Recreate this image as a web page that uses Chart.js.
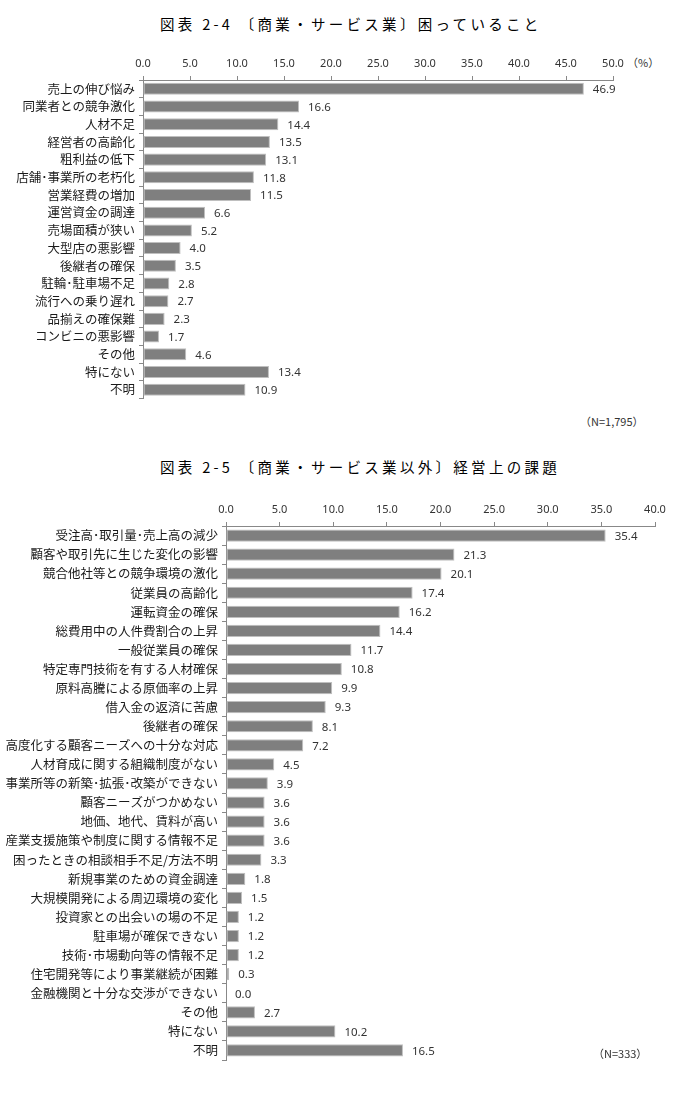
<!DOCTYPE html>
<html>
<head>
<meta charset="utf-8">
<script src="https://cdn.jsdelivr.net/npm/chart.js@4/dist/chart.umd.min.js"></script>
<style>
    body { margin: 0; background: #fff; width: 676px; height: 1105px; position: relative; overflow: hidden;
           font-family: "Noto Sans CJK JP", "Noto Sans", sans-serif; color: #222; }
    .title { position: absolute; left: 160px; font-size: 14.5px; letter-spacing: 3.3px; color: #000; font-weight: 400; white-space: nowrap; }
    .note { position: absolute; font-size: 11px; color: #333; }
    .box { position: absolute; left: 0; width: 676px; }
</style>
</head>
<body>
<div class="title" style="top:13px;">図表 2-4 〔商業・サービス業〕困っていること</div>
<div class="note" style="left:627px; top:54px;">（%）</div>
<div class="box" style="top:0; height:410px;"><canvas id="chart1"></canvas></div>
<div class="note" style="left:580px; top:413px;">（N=1,795）</div>

<div class="title" style="top:456px;">図表 2-5 〔商業・サービス業以外〕経営上の課題</div>
<div class="note" style="left:669px; top:506px;">（</div>
<div class="box" style="top:480px; height:600px;"><canvas id="chart2"></canvas></div>
<div class="note" style="left:593px; top:1045px;">（N=333）</div>

<script>
// ============================================
// DATA
// ============================================
const labels1 = ['売上の伸び悩み', '同業者との競争激化', '人材不足', '経営者の高齢化', '粗利益の低下',
    '店舗･事業所の老朽化', '営業経費の増加', '運営資金の調達', '売場面積が狭い', '大型店の悪影響',
    '後継者の確保', '駐輪･駐車場不足', '流行への乗り遅れ', '品揃えの確保難', 'コンビニの悪影響',
    'その他', '特にない', '不明'];
const values1 = [46.9, 16.6, 14.4, 13.5, 13.1, 11.8, 11.5, 6.6, 5.2, 4.0, 3.5, 2.8, 2.7, 2.3, 1.7, 4.6, 13.4, 10.9];
const ticks1 = [0, 5, 10, 15, 20, 25, 30, 35, 40, 45, 50];

const labels2 = ['受注高･取引量･売上高の減少', '顧客や取引先に生じた変化の影響', '競合他社等との競争環境の激化',
    '従業員の高齢化', '運転資金の確保', '総費用中の人件費割合の上昇', '一般従業員の確保',
    '特定専門技術を有する人材確保', '原料高騰による原価率の上昇', '借入金の返済に苦慮', '後継者の確保',
    '高度化する顧客ニーズへの十分な対応', '人材育成に関する組織制度がない', '事業所等の新築･拡張･改築ができない',
    '顧客ニーズがつかめない', '地価、地代、賃料が高い', '産業支援施策や制度に関する情報不足',
    '困ったときの相談相手不足/方法不明', '新規事業のための資金調達', '大規模開発による周辺環境の変化',
    '投資家との出会いの場の不足', '駐車場が確保できない', '技術･市場動向等の情報不足',
    '住宅開発等により事業継続が困難', '金融機関と十分な交渉ができない', 'その他', '特にない', '不明'];
const values2 = [35.4, 21.3, 20.1, 17.4, 16.2, 14.4, 11.7, 10.8, 9.9, 9.3, 8.1, 7.2, 4.5, 3.9, 3.6, 3.6, 3.6,
    3.3, 1.8, 1.5, 1.2, 1.2, 1.2, 0.3, 0.0, 2.7, 10.2, 16.5];
const ticks2 = [0, 5, 10, 15, 20, 25, 30, 35, 40];

// ============================================
// VALUE LABEL PLUGIN
// ============================================
const valueLabels = {
    id: 'valueLabels',
    afterDatasetsDraw(chart) {
        const ctx = chart.ctx;
        const meta = chart.getDatasetMeta(0);
        ctx.save();
        ctx.font = '11.5px "Noto Sans", sans-serif';
        ctx.fillStyle = '#333';
        ctx.textAlign = 'left';
        ctx.textBaseline = 'middle';
        meta.data.forEach((bar, i) => {
            const v = chart.data.datasets[0].data[i];
            ctx.fillText(v.toFixed(1), bar.x + 9, bar.y + 1);
        });
        ctx.restore();
    }
};

function makeChart(id, labels, values, ticks, opts) {
    const max = ticks[ticks.length - 1];
    return new Chart(document.getElementById(id), {
        type: 'bar',
        data: {
            labels: labels,
            datasets: [{
                data: values,
                backgroundColor: '#7f7f7f',
                borderColor: '#bfbfbf',
                borderWidth: 1,
                borderSkipped: false,
                barPercentage: opts.barPct,
                categoryPercentage: 1
            }]
        },
        options: {
            indexAxis: 'y',
            responsive: true,
            maintainAspectRatio: false,
            animation: false,
            layout: { padding: { top: opts.top, right: opts.right, bottom: opts.bottom, left: 0 } },
            plugins: { legend: { display: false }, tooltip: { enabled: false } },
            scales: {
                x: {
                    position: 'top',
                    min: 0,
                    max: max,
                    afterBuildTicks: (scale) => { scale.ticks = ticks.map(v => ({ value: v })); },
                    afterFit: (scale) => { scale.height = opts.xHeight; },
                    ticks: {
                        color: '#333',
                        font: { size: 11, family: '"Noto Sans", sans-serif' },
                        padding: 6,
                        maxRotation: 0,
                        callback: (v) => Number(v).toFixed(1)
                    },
                    grid: { drawOnChartArea: false, drawTicks: true, tickLength: 4, color: '#888' },
                    border: { color: '#888' }
                },
                y: {
                    afterFit: (scale) => { scale.width = opts.yWidth; },
                    ticks: {
                        color: '#1a1a1a',
                        font: { size: 12.5, family: '"Noto Sans CJK JP", sans-serif' },
                        padding: 4,
                        autoSkip: false
                    },
                    grid: { drawOnChartArea: false, drawTicks: true, tickLength: 4, color: '#888' },
                    border: { color: '#888' }
                }
            }
        },
        plugins: [valueLabels]
    });
}

makeChart('chart1', labels1, values1, ticks1, { top: 50, xHeight: 30, right: 63, bottom: 5, yWidth: 143, barPct: 0.68 });
makeChart('chart2', labels2, values2, ticks2, { top: 20, xHeight: 26, right: 21, bottom: 20, yWidth: 226, barPct: 0.64 });
</script>
</body>
</html>
